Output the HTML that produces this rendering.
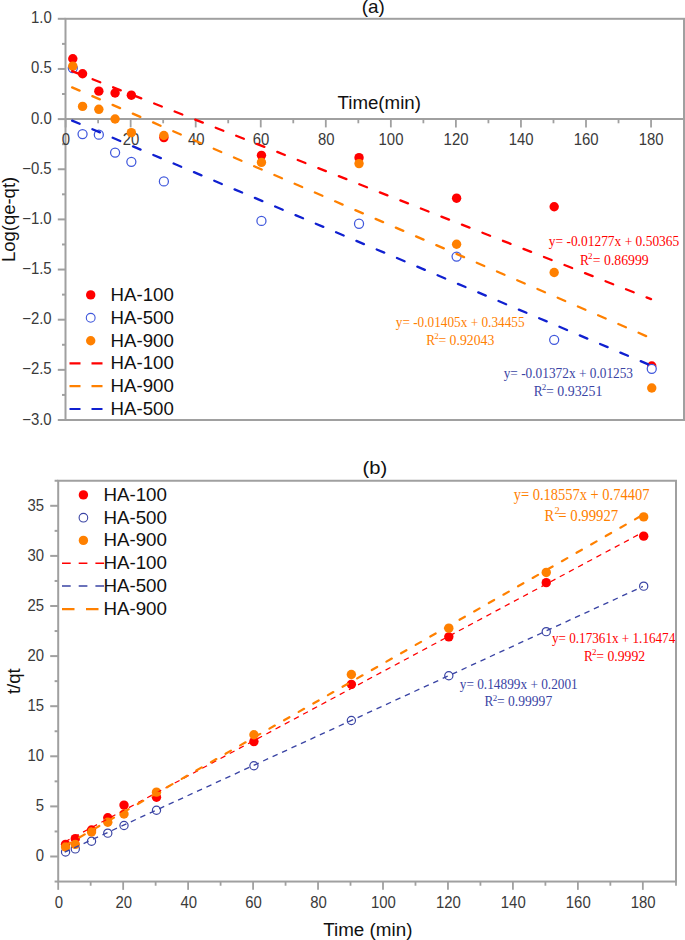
<!DOCTYPE html><html><head><meta charset="utf-8"><style>html,body{margin:0;padding:0;background:#fff;width:685px;height:940px;overflow:hidden}svg{display:block}text{font-family:"Liberation Sans",sans-serif}.s{font-family:"Liberation Serif",serif}</style></head><body>
<svg width="685" height="940" viewBox="0 0 685 940">
<rect width="685" height="940" fill="#fff"/>
<rect x="65.5" y="18.8" width="618.5" height="401.2" fill="none" stroke="#a0a0a0" stroke-width="2"/><line x1="65.5" y1="119.1" x2="684" y2="119.1" stroke="#a0a0a0" stroke-width="2"/><line x1="65.6" y1="119.1" x2="65.6" y2="127.4" stroke="#a0a0a0" stroke-width="1.8"/><line x1="98.12" y1="119.1" x2="98.12" y2="123.3" stroke="#a0a0a0" stroke-width="1.8"/><line x1="130.65" y1="119.1" x2="130.65" y2="127.4" stroke="#a0a0a0" stroke-width="1.8"/><line x1="163.18" y1="119.1" x2="163.18" y2="123.3" stroke="#a0a0a0" stroke-width="1.8"/><line x1="195.7" y1="119.1" x2="195.7" y2="127.4" stroke="#a0a0a0" stroke-width="1.8"/><line x1="228.22" y1="119.1" x2="228.22" y2="123.3" stroke="#a0a0a0" stroke-width="1.8"/><line x1="260.75" y1="119.1" x2="260.75" y2="127.4" stroke="#a0a0a0" stroke-width="1.8"/><line x1="293.27" y1="119.1" x2="293.27" y2="123.3" stroke="#a0a0a0" stroke-width="1.8"/><line x1="325.8" y1="119.1" x2="325.8" y2="127.4" stroke="#a0a0a0" stroke-width="1.8"/><line x1="358.33" y1="119.1" x2="358.33" y2="123.3" stroke="#a0a0a0" stroke-width="1.8"/><line x1="390.85" y1="119.1" x2="390.85" y2="127.4" stroke="#a0a0a0" stroke-width="1.8"/><line x1="423.38" y1="119.1" x2="423.38" y2="123.3" stroke="#a0a0a0" stroke-width="1.8"/><line x1="455.9" y1="119.1" x2="455.9" y2="127.4" stroke="#a0a0a0" stroke-width="1.8"/><line x1="488.42" y1="119.1" x2="488.42" y2="123.3" stroke="#a0a0a0" stroke-width="1.8"/><line x1="520.95" y1="119.1" x2="520.95" y2="127.4" stroke="#a0a0a0" stroke-width="1.8"/><line x1="553.48" y1="119.1" x2="553.48" y2="123.3" stroke="#a0a0a0" stroke-width="1.8"/><line x1="586" y1="119.1" x2="586" y2="127.4" stroke="#a0a0a0" stroke-width="1.8"/><line x1="618.52" y1="119.1" x2="618.52" y2="123.3" stroke="#a0a0a0" stroke-width="1.8"/><line x1="651.05" y1="119.1" x2="651.05" y2="127.4" stroke="#a0a0a0" stroke-width="1.8"/><line x1="57.8" y1="18.8" x2="65.5" y2="18.8" stroke="#a0a0a0" stroke-width="2"/><line x1="62" y1="43.88" x2="65.5" y2="43.88" stroke="#a0a0a0" stroke-width="2"/><line x1="57.8" y1="68.95" x2="65.5" y2="68.95" stroke="#a0a0a0" stroke-width="2"/><line x1="62" y1="94.02" x2="65.5" y2="94.02" stroke="#a0a0a0" stroke-width="2"/><line x1="57.8" y1="119.1" x2="65.5" y2="119.1" stroke="#a0a0a0" stroke-width="2"/><line x1="62" y1="144.17" x2="65.5" y2="144.17" stroke="#a0a0a0" stroke-width="2"/><line x1="57.8" y1="169.25" x2="65.5" y2="169.25" stroke="#a0a0a0" stroke-width="2"/><line x1="62" y1="194.32" x2="65.5" y2="194.32" stroke="#a0a0a0" stroke-width="2"/><line x1="57.8" y1="219.4" x2="65.5" y2="219.4" stroke="#a0a0a0" stroke-width="2"/><line x1="62" y1="244.47" x2="65.5" y2="244.47" stroke="#a0a0a0" stroke-width="2"/><line x1="57.8" y1="269.55" x2="65.5" y2="269.55" stroke="#a0a0a0" stroke-width="2"/><line x1="62" y1="294.62" x2="65.5" y2="294.62" stroke="#a0a0a0" stroke-width="2"/><line x1="57.8" y1="319.7" x2="65.5" y2="319.7" stroke="#a0a0a0" stroke-width="2"/><line x1="62" y1="344.77" x2="65.5" y2="344.77" stroke="#a0a0a0" stroke-width="2"/><line x1="57.8" y1="369.85" x2="65.5" y2="369.85" stroke="#a0a0a0" stroke-width="2"/><line x1="62" y1="394.92" x2="65.5" y2="394.92" stroke="#a0a0a0" stroke-width="2"/><line x1="57.8" y1="420" x2="65.5" y2="420" stroke="#a0a0a0" stroke-width="2"/>
<text x="30.97" y="23.30" font-size="16.3" fill="#3a3a3a" textLength="20.73" lengthAdjust="spacingAndGlyphs">1.0</text>
<text x="30.97" y="73.45" font-size="16.3" fill="#3a3a3a" textLength="20.73" lengthAdjust="spacingAndGlyphs">0.5</text>
<text x="30.97" y="123.60" font-size="16.3" fill="#3a3a3a" textLength="20.73" lengthAdjust="spacingAndGlyphs">0.0</text>
<text x="22.24" y="173.75" font-size="16.3" fill="#3a3a3a" textLength="29.44" lengthAdjust="spacingAndGlyphs">−0.5</text>
<text x="22.24" y="223.90" font-size="16.3" fill="#3a3a3a" textLength="29.44" lengthAdjust="spacingAndGlyphs">−1.0</text>
<text x="22.24" y="274.05" font-size="16.3" fill="#3a3a3a" textLength="29.44" lengthAdjust="spacingAndGlyphs">−1.5</text>
<text x="22.24" y="324.20" font-size="16.3" fill="#3a3a3a" textLength="29.44" lengthAdjust="spacingAndGlyphs">−2.0</text>
<text x="22.24" y="374.35" font-size="16.3" fill="#3a3a3a" textLength="29.44" lengthAdjust="spacingAndGlyphs">−2.5</text>
<text x="22.24" y="424.50" font-size="16.3" fill="#3a3a3a" textLength="29.44" lengthAdjust="spacingAndGlyphs">−3.0</text>
<text x="61.86" y="144.80" font-size="16.3" fill="#3a3a3a" textLength="8.30" lengthAdjust="spacingAndGlyphs">0</text>
<text x="122.70" y="144.80" font-size="16.3" fill="#3a3a3a" textLength="16.59" lengthAdjust="spacingAndGlyphs">20</text>
<text x="187.93" y="144.80" font-size="16.3" fill="#3a3a3a" textLength="16.59" lengthAdjust="spacingAndGlyphs">40</text>
<text x="252.80" y="144.80" font-size="16.3" fill="#3a3a3a" textLength="16.59" lengthAdjust="spacingAndGlyphs">60</text>
<text x="317.89" y="144.80" font-size="16.3" fill="#3a3a3a" textLength="16.59" lengthAdjust="spacingAndGlyphs">80</text>
<text x="378.57" y="144.80" font-size="16.3" fill="#3a3a3a" textLength="24.89" lengthAdjust="spacingAndGlyphs">100</text>
<text x="443.62" y="144.80" font-size="16.3" fill="#3a3a3a" textLength="24.89" lengthAdjust="spacingAndGlyphs">120</text>
<text x="508.67" y="144.80" font-size="16.3" fill="#3a3a3a" textLength="24.89" lengthAdjust="spacingAndGlyphs">140</text>
<text x="573.72" y="144.80" font-size="16.3" fill="#3a3a3a" textLength="24.89" lengthAdjust="spacingAndGlyphs">160</text>
<text x="638.77" y="144.80" font-size="16.3" fill="#3a3a3a" textLength="24.89" lengthAdjust="spacingAndGlyphs">180</text>
<text x="337.53" y="109.00" font-size="18.3" fill="#111" textLength="83.44" lengthAdjust="spacingAndGlyphs">Time(min)</text>
<text x="361.77" y="13.20" font-size="18.2" fill="#111" textLength="23.11" lengthAdjust="spacingAndGlyphs">(a)</text>
<text transform="rotate(-90)" x="-262.08" y="14.90" font-size="18.5" fill="#111" textLength="85.26" lengthAdjust="spacingAndGlyphs">Log(qe-qt)</text>
<circle cx="72.8" cy="58.77" r="4.7" fill="#ff0000"/><circle cx="82.56" cy="73.71" r="4.7" fill="#ff0000"/><circle cx="98.83" cy="91.17" r="4.7" fill="#ff0000"/><circle cx="115.09" cy="92.97" r="4.7" fill="#ff0000"/><circle cx="131.35" cy="95.18" r="4.7" fill="#ff0000"/><circle cx="163.88" cy="137.6" r="4.7" fill="#ff0000"/><circle cx="261.45" cy="155.36" r="4.7" fill="#ff0000"/><circle cx="359.03" cy="157.66" r="4.7" fill="#ff0000"/><circle cx="456.6" cy="198.19" r="4.7" fill="#ff0000"/><circle cx="554.18" cy="206.71" r="4.7" fill="#ff0000"/><circle cx="651.75" cy="365.99" r="4.7" fill="#ff0000"/>
<circle cx="72.8" cy="68.1" r="4.525" fill="#fff" stroke="#4058dc" stroke-width="1.25"/><circle cx="82.56" cy="134.09" r="4.525" fill="#fff" stroke="#4058dc" stroke-width="1.25"/><circle cx="98.83" cy="134.7" r="4.525" fill="#fff" stroke="#4058dc" stroke-width="1.25"/><circle cx="115.09" cy="152.55" r="4.525" fill="#fff" stroke="#4058dc" stroke-width="1.25"/><circle cx="131.35" cy="161.78" r="4.525" fill="#fff" stroke="#4058dc" stroke-width="1.25"/><circle cx="163.88" cy="181.44" r="4.525" fill="#fff" stroke="#4058dc" stroke-width="1.25"/><circle cx="261.45" cy="220.95" r="4.525" fill="#fff" stroke="#4058dc" stroke-width="1.25"/><circle cx="359.03" cy="223.76" r="4.525" fill="#fff" stroke="#4058dc" stroke-width="1.25"/><circle cx="456.6" cy="256.56" r="4.525" fill="#fff" stroke="#4058dc" stroke-width="1.25"/><circle cx="554.18" cy="339.81" r="4.525" fill="#fff" stroke="#4058dc" stroke-width="1.25"/><circle cx="651.75" cy="368.8" r="4.525" fill="#fff" stroke="#4058dc" stroke-width="1.25"/>
<circle cx="72.8" cy="66.19" r="4.7" fill="#ff8000"/><circle cx="82.56" cy="106.41" r="4.7" fill="#ff8000"/><circle cx="98.83" cy="109.32" r="4.7" fill="#ff8000"/><circle cx="115.09" cy="118.95" r="4.7" fill="#ff8000"/><circle cx="131.35" cy="132.69" r="4.7" fill="#ff8000"/><circle cx="163.88" cy="135.5" r="4.7" fill="#ff8000"/><circle cx="261.45" cy="162.38" r="4.7" fill="#ff8000"/><circle cx="359.03" cy="163.58" r="4.7" fill="#ff8000"/><circle cx="456.6" cy="244.22" r="4.7" fill="#ff8000"/><circle cx="554.18" cy="272.51" r="4.7" fill="#ff8000"/><circle cx="651.75" cy="388.05" r="4.7" fill="#ff8000"/>
<line x1="72.1" y1="71.15" x2="651.05" y2="299.13" stroke="#ff0000" stroke-width="2.3" stroke-dasharray="8.2 13.85" stroke-dashoffset="0" stroke-linecap="round"/>
<line x1="72.1" y1="87.36" x2="651.05" y2="338.2" stroke="#ff8000" stroke-width="2.3" stroke-dasharray="8.2 13.85" stroke-dashoffset="0" stroke-linecap="round"/>
<line x1="72.1" y1="120.6" x2="651.05" y2="365.54" stroke="#1020d0" stroke-width="2.3" stroke-dasharray="8.2 13.85" stroke-dashoffset="0" stroke-linecap="round"/>
<text class="s" x="548.77" y="246.20" font-size="14.3" fill="#ff0000" textLength="130.49" lengthAdjust="spacingAndGlyphs">y= -0.01277x + 0.50365</text><text class="s" x="580.10" y="264.60" font-size="14.3" fill="#ff0000" textLength="8.96" lengthAdjust="spacingAndGlyphs">R</text><text class="s" x="588.03" y="259.10" font-size="9.0" fill="#ff0000" textLength="4.50" lengthAdjust="spacingAndGlyphs">2</text><text class="s" x="592.84" y="264.60" font-size="14.3" fill="#ff0000" textLength="55.89" lengthAdjust="spacingAndGlyphs">= 0.86999</text>
<text class="s" x="395.77" y="326.90" font-size="14.3" fill="#ff8000" textLength="128.78" lengthAdjust="spacingAndGlyphs">y= -0.01405x + 0.34455</text><text class="s" x="426.20" y="344.60" font-size="14.3" fill="#ff8000" textLength="8.85" lengthAdjust="spacingAndGlyphs">R</text><text class="s" x="434.22" y="339.10" font-size="9.0" fill="#ff8000" textLength="4.50" lengthAdjust="spacingAndGlyphs">2</text><text class="s" x="438.43" y="344.60" font-size="14.3" fill="#ff8000" textLength="55.90" lengthAdjust="spacingAndGlyphs">= 0.92043</text>
<text class="s" x="503.67" y="377.60" font-size="14.3" fill="#3a44a4" textLength="129.38" lengthAdjust="spacingAndGlyphs">y= -0.01372x + 0.01253</text><text class="s" x="533.70" y="395.60" font-size="14.3" fill="#3a44a4" textLength="8.89" lengthAdjust="spacingAndGlyphs">R</text><text class="s" x="541.86" y="390.10" font-size="9.0" fill="#3a44a4" textLength="4.50" lengthAdjust="spacingAndGlyphs">2</text><text class="s" x="546.07" y="395.60" font-size="14.3" fill="#3a44a4" textLength="56.35" lengthAdjust="spacingAndGlyphs">= 0.93251</text>
<circle cx="90.7" cy="294.9" r="4.7" fill="#ff0000"/>
<circle cx="90.7" cy="317.8" r="4.4" fill="none" stroke="#4058dc" stroke-width="1.1"/>
<circle cx="90.7" cy="340.7" r="4.7" fill="#ff8000"/>
<line x1="69.5" y1="363.4" x2="102.5" y2="363.4" stroke="#ff0000" stroke-width="2.2" stroke-dasharray="11 11"/>
<line x1="69.5" y1="386.2" x2="102.5" y2="386.2" stroke="#ff8000" stroke-width="2.2" stroke-dasharray="11 11"/>
<line x1="69.5" y1="409.0" x2="102.5" y2="409.0" stroke="#1020d0" stroke-width="2.2" stroke-dasharray="11 11"/>
<text x="110.61" y="300.90" font-size="18" fill="#111" textLength="63.15" lengthAdjust="spacingAndGlyphs">HA-100</text>
<text x="110.61" y="323.80" font-size="18" fill="#111" textLength="63.15" lengthAdjust="spacingAndGlyphs">HA-500</text>
<text x="110.61" y="346.70" font-size="18" fill="#111" textLength="63.15" lengthAdjust="spacingAndGlyphs">HA-900</text>
<text x="110.61" y="369.40" font-size="18" fill="#111" textLength="63.15" lengthAdjust="spacingAndGlyphs">HA-100</text>
<text x="110.61" y="392.20" font-size="18" fill="#111" textLength="63.15" lengthAdjust="spacingAndGlyphs">HA-900</text>
<text x="110.61" y="415.00" font-size="18" fill="#111" textLength="63.15" lengthAdjust="spacingAndGlyphs">HA-500</text>
<rect x="58.2" y="480.75" width="617.8" height="400.8" fill="none" stroke="#a0a0a0" stroke-width="2"/><line x1="58.2" y1="881.55" x2="58.2" y2="889.85" stroke="#a0a0a0" stroke-width="1.8"/><line x1="90.68" y1="881.55" x2="90.68" y2="885.75" stroke="#a0a0a0" stroke-width="1.8"/><line x1="123.16" y1="881.55" x2="123.16" y2="889.85" stroke="#a0a0a0" stroke-width="1.8"/><line x1="155.64" y1="881.55" x2="155.64" y2="885.75" stroke="#a0a0a0" stroke-width="1.8"/><line x1="188.12" y1="881.55" x2="188.12" y2="889.85" stroke="#a0a0a0" stroke-width="1.8"/><line x1="220.6" y1="881.55" x2="220.6" y2="885.75" stroke="#a0a0a0" stroke-width="1.8"/><line x1="253.08" y1="881.55" x2="253.08" y2="889.85" stroke="#a0a0a0" stroke-width="1.8"/><line x1="285.56" y1="881.55" x2="285.56" y2="885.75" stroke="#a0a0a0" stroke-width="1.8"/><line x1="318.04" y1="881.55" x2="318.04" y2="889.85" stroke="#a0a0a0" stroke-width="1.8"/><line x1="350.52" y1="881.55" x2="350.52" y2="885.75" stroke="#a0a0a0" stroke-width="1.8"/><line x1="383" y1="881.55" x2="383" y2="889.85" stroke="#a0a0a0" stroke-width="1.8"/><line x1="415.48" y1="881.55" x2="415.48" y2="885.75" stroke="#a0a0a0" stroke-width="1.8"/><line x1="447.96" y1="881.55" x2="447.96" y2="889.85" stroke="#a0a0a0" stroke-width="1.8"/><line x1="480.44" y1="881.55" x2="480.44" y2="885.75" stroke="#a0a0a0" stroke-width="1.8"/><line x1="512.92" y1="881.55" x2="512.92" y2="889.85" stroke="#a0a0a0" stroke-width="1.8"/><line x1="545.4" y1="881.55" x2="545.4" y2="885.75" stroke="#a0a0a0" stroke-width="1.8"/><line x1="577.88" y1="881.55" x2="577.88" y2="889.85" stroke="#a0a0a0" stroke-width="1.8"/><line x1="610.36" y1="881.55" x2="610.36" y2="885.75" stroke="#a0a0a0" stroke-width="1.8"/><line x1="642.84" y1="881.55" x2="642.84" y2="889.85" stroke="#a0a0a0" stroke-width="1.8"/><line x1="676" y1="881.55" x2="676" y2="885.75" stroke="#a0a0a0" stroke-width="1.8"/><line x1="54.6" y1="881.55" x2="58.2" y2="881.55" stroke="#a0a0a0" stroke-width="2"/><line x1="50.2" y1="856.5" x2="58.2" y2="856.5" stroke="#a0a0a0" stroke-width="2"/><line x1="54.6" y1="831.45" x2="58.2" y2="831.45" stroke="#a0a0a0" stroke-width="2"/><line x1="50.2" y1="806.4" x2="58.2" y2="806.4" stroke="#a0a0a0" stroke-width="2"/><line x1="54.6" y1="781.35" x2="58.2" y2="781.35" stroke="#a0a0a0" stroke-width="2"/><line x1="50.2" y1="756.3" x2="58.2" y2="756.3" stroke="#a0a0a0" stroke-width="2"/><line x1="54.6" y1="731.25" x2="58.2" y2="731.25" stroke="#a0a0a0" stroke-width="2"/><line x1="50.2" y1="706.2" x2="58.2" y2="706.2" stroke="#a0a0a0" stroke-width="2"/><line x1="54.6" y1="681.15" x2="58.2" y2="681.15" stroke="#a0a0a0" stroke-width="2"/><line x1="50.2" y1="656.1" x2="58.2" y2="656.1" stroke="#a0a0a0" stroke-width="2"/><line x1="54.6" y1="631.05" x2="58.2" y2="631.05" stroke="#a0a0a0" stroke-width="2"/><line x1="50.2" y1="606" x2="58.2" y2="606" stroke="#a0a0a0" stroke-width="2"/><line x1="54.6" y1="580.95" x2="58.2" y2="580.95" stroke="#a0a0a0" stroke-width="2"/><line x1="50.2" y1="555.9" x2="58.2" y2="555.9" stroke="#a0a0a0" stroke-width="2"/><line x1="54.6" y1="530.85" x2="58.2" y2="530.85" stroke="#a0a0a0" stroke-width="2"/><line x1="50.2" y1="505.8" x2="58.2" y2="505.8" stroke="#a0a0a0" stroke-width="2"/><line x1="54.6" y1="480.75" x2="58.2" y2="480.75" stroke="#a0a0a0" stroke-width="2"/>
<text x="35.72" y="861.40" font-size="16.3" fill="#3a3a3a" textLength="8.30" lengthAdjust="spacingAndGlyphs">0</text>
<text x="35.72" y="811.30" font-size="16.3" fill="#3a3a3a" textLength="8.30" lengthAdjust="spacingAndGlyphs">5</text>
<text x="27.44" y="761.20" font-size="16.3" fill="#3a3a3a" textLength="16.59" lengthAdjust="spacingAndGlyphs">10</text>
<text x="27.44" y="711.10" font-size="16.3" fill="#3a3a3a" textLength="16.59" lengthAdjust="spacingAndGlyphs">15</text>
<text x="27.44" y="661.00" font-size="16.3" fill="#3a3a3a" textLength="16.59" lengthAdjust="spacingAndGlyphs">20</text>
<text x="27.44" y="610.90" font-size="16.3" fill="#3a3a3a" textLength="16.59" lengthAdjust="spacingAndGlyphs">25</text>
<text x="27.44" y="560.80" font-size="16.3" fill="#3a3a3a" textLength="16.59" lengthAdjust="spacingAndGlyphs">30</text>
<text x="27.44" y="510.70" font-size="16.3" fill="#3a3a3a" textLength="16.59" lengthAdjust="spacingAndGlyphs">35</text>
<text x="54.66" y="907.55" font-size="16.3" fill="#3a3a3a" textLength="8.30" lengthAdjust="spacingAndGlyphs">0</text>
<text x="115.41" y="907.55" font-size="16.3" fill="#3a3a3a" textLength="16.59" lengthAdjust="spacingAndGlyphs">20</text>
<text x="180.55" y="907.55" font-size="16.3" fill="#3a3a3a" textLength="16.59" lengthAdjust="spacingAndGlyphs">40</text>
<text x="245.33" y="907.55" font-size="16.3" fill="#3a3a3a" textLength="16.59" lengthAdjust="spacingAndGlyphs">60</text>
<text x="310.33" y="907.55" font-size="16.3" fill="#3a3a3a" textLength="16.59" lengthAdjust="spacingAndGlyphs">80</text>
<text x="370.92" y="907.55" font-size="16.3" fill="#3a3a3a" textLength="24.89" lengthAdjust="spacingAndGlyphs">100</text>
<text x="435.88" y="907.55" font-size="16.3" fill="#3a3a3a" textLength="24.89" lengthAdjust="spacingAndGlyphs">120</text>
<text x="500.84" y="907.55" font-size="16.3" fill="#3a3a3a" textLength="24.89" lengthAdjust="spacingAndGlyphs">140</text>
<text x="565.80" y="907.55" font-size="16.3" fill="#3a3a3a" textLength="24.89" lengthAdjust="spacingAndGlyphs">160</text>
<text x="630.76" y="907.55" font-size="16.3" fill="#3a3a3a" textLength="24.89" lengthAdjust="spacingAndGlyphs">180</text>
<text x="323.23" y="935.70" font-size="18.3" fill="#111" textLength="89.20" lengthAdjust="spacingAndGlyphs">Time (min)</text>
<text x="362.59" y="474.10" font-size="18.2" fill="#111" textLength="24.67" lengthAdjust="spacingAndGlyphs">(b)</text>
<text transform="rotate(-90)" x="-694.08" y="19.70" font-size="18" fill="#111" textLength="25.76" lengthAdjust="spacingAndGlyphs">t/qt</text>
<circle cx="65.55" cy="844.37" r="4.7" fill="#ff0000"/><circle cx="75.29" cy="838.66" r="4.7" fill="#ff0000"/><circle cx="91.53" cy="830.05" r="4.7" fill="#ff0000"/><circle cx="107.77" cy="817.72" r="4.7" fill="#ff0000"/><circle cx="124.01" cy="805.1" r="4.7" fill="#ff0000"/><circle cx="156.49" cy="797.28" r="4.7" fill="#ff0000"/><circle cx="253.93" cy="741.57" r="4.7" fill="#ff0000"/><circle cx="351.37" cy="684.36" r="4.7" fill="#ff0000"/><circle cx="448.81" cy="636.86" r="4.7" fill="#ff0000"/><circle cx="546.25" cy="582.65" r="4.7" fill="#ff0000"/><circle cx="643.69" cy="536.16" r="4.7" fill="#ff0000"/>
<circle cx="65.55" cy="851.99" r="4.1000000000000005" fill="#fff" stroke="#3a44a4" stroke-width="1.2"/><circle cx="75.29" cy="848.88" r="4.1000000000000005" fill="#fff" stroke="#3a44a4" stroke-width="1.2"/><circle cx="91.53" cy="841.27" r="4.1000000000000005" fill="#fff" stroke="#3a44a4" stroke-width="1.2"/><circle cx="107.77" cy="833.15" r="4.1000000000000005" fill="#fff" stroke="#3a44a4" stroke-width="1.2"/><circle cx="124.01" cy="825.54" r="4.1000000000000005" fill="#fff" stroke="#3a44a4" stroke-width="1.2"/><circle cx="156.49" cy="810.21" r="4.1000000000000005" fill="#fff" stroke="#3a44a4" stroke-width="1.2"/><circle cx="253.93" cy="765.72" r="4.1000000000000005" fill="#fff" stroke="#3a44a4" stroke-width="1.2"/><circle cx="351.37" cy="720.53" r="4.1000000000000005" fill="#fff" stroke="#3a44a4" stroke-width="1.2"/><circle cx="448.81" cy="675.74" r="4.1000000000000005" fill="#fff" stroke="#3a44a4" stroke-width="1.2"/><circle cx="546.25" cy="631.65" r="4.1000000000000005" fill="#fff" stroke="#3a44a4" stroke-width="1.2"/><circle cx="643.69" cy="586.16" r="4.1000000000000005" fill="#fff" stroke="#3a44a4" stroke-width="1.2"/>
<circle cx="65.55" cy="846.98" r="4.7" fill="#ff8000"/><circle cx="75.29" cy="844.37" r="4.7" fill="#ff8000"/><circle cx="91.53" cy="832.05" r="4.7" fill="#ff8000"/><circle cx="107.77" cy="822.23" r="4.7" fill="#ff8000"/><circle cx="124.01" cy="814.01" r="4.7" fill="#ff8000"/><circle cx="156.49" cy="792.17" r="4.7" fill="#ff8000"/><circle cx="253.93" cy="734.76" r="4.7" fill="#ff8000"/><circle cx="351.37" cy="674.54" r="4.7" fill="#ff8000"/><circle cx="448.81" cy="628.14" r="4.7" fill="#ff8000"/><circle cx="546.25" cy="572.43" r="4.7" fill="#ff8000"/><circle cx="643.69" cy="516.92" r="4.7" fill="#ff8000"/>
<line x1="64.7" y1="841.95" x2="642.84" y2="532.31" stroke="#ff0000" stroke-width="1.25" stroke-dasharray="5.5 4.9" stroke-dashoffset="0" stroke-linecap="butt"/>
<line x1="64.7" y1="852.21" x2="642.84" y2="586.48" stroke="#3a44a4" stroke-width="1.35" stroke-dasharray="5.5 4.9" stroke-dashoffset="0" stroke-linecap="butt"/>
<line x1="64.7" y1="845.83" x2="642.84" y2="514.85" stroke="#ff8000" stroke-width="2.2" stroke-dasharray="6.2 10.65" stroke-dashoffset="0" stroke-linecap="round"/>
<text class="s" x="513.66" y="499.90" font-size="15.8" fill="#ff8000" textLength="135.75" lengthAdjust="spacingAndGlyphs">y= 0.18557x + 0.74407</text><text class="s" x="544.57" y="520.70" font-size="15.8" fill="#ff8000" textLength="9.66" lengthAdjust="spacingAndGlyphs">R</text><text class="s" x="554.62" y="514.10" font-size="10.5" fill="#ff8000" textLength="5.25" lengthAdjust="spacingAndGlyphs">2</text><text class="s" x="558.25" y="520.70" font-size="15.8" fill="#ff8000" textLength="59.97" lengthAdjust="spacingAndGlyphs">= 0.99927</text>
<text class="s" x="551.97" y="643.00" font-size="14.3" fill="#ff0000" textLength="123.30" lengthAdjust="spacingAndGlyphs">y= 0.17361x + 1.16474</text><text class="s" x="584.01" y="660.80" font-size="14.3" fill="#ff0000" textLength="8.77" lengthAdjust="spacingAndGlyphs">R</text><text class="s" x="592.04" y="655.30" font-size="9.0" fill="#ff0000" textLength="4.50" lengthAdjust="spacingAndGlyphs">2</text><text class="s" x="596.26" y="660.80" font-size="14.3" fill="#ff0000" textLength="48.98" lengthAdjust="spacingAndGlyphs">= 0.9992</text>
<text class="s" x="459.77" y="688.60" font-size="14.3" fill="#3a44a4" textLength="118.00" lengthAdjust="spacingAndGlyphs">y= 0.14899x + 0.2001</text><text class="s" x="484.60" y="706.10" font-size="14.3" fill="#3a44a4" textLength="8.87" lengthAdjust="spacingAndGlyphs">R</text><text class="s" x="492.74" y="700.60" font-size="9.0" fill="#3a44a4" textLength="4.50" lengthAdjust="spacingAndGlyphs">2</text><text class="s" x="496.96" y="706.10" font-size="14.3" fill="#3a44a4" textLength="55.23" lengthAdjust="spacingAndGlyphs">= 0.99997</text>
<circle cx="83.4" cy="494.9" r="4.7" fill="#ff0000"/>
<circle cx="83.4" cy="517.7" r="4.3" fill="none" stroke="#3a44a4" stroke-width="1.1"/>
<circle cx="83.4" cy="540.4" r="4.7" fill="#ff8000"/>
<line x1="62" y1="563.2" x2="104.5" y2="563.2" stroke="#ff0000" stroke-width="1.6" stroke-dasharray="8.7 8"/>
<line x1="62" y1="586.0" x2="104.5" y2="586.0" stroke="#3a44a4" stroke-width="1.6" stroke-dasharray="8.7 8"/>
<line x1="62" y1="609.1" x2="99" y2="609.1" stroke="#ff8000" stroke-width="2.3" stroke-dasharray="12.5 11.5"/>
<text x="103.40" y="500.70" font-size="18" fill="#111" textLength="63.56" lengthAdjust="spacingAndGlyphs">HA-100</text>
<text x="103.40" y="523.50" font-size="18" fill="#111" textLength="63.56" lengthAdjust="spacingAndGlyphs">HA-500</text>
<text x="103.40" y="546.20" font-size="18" fill="#111" textLength="63.56" lengthAdjust="spacingAndGlyphs">HA-900</text>
<text x="103.40" y="569.00" font-size="18" fill="#111" textLength="63.56" lengthAdjust="spacingAndGlyphs">HA-100</text>
<text x="103.40" y="591.80" font-size="18" fill="#111" textLength="63.56" lengthAdjust="spacingAndGlyphs">HA-500</text>
<text x="103.40" y="614.90" font-size="18" fill="#111" textLength="63.56" lengthAdjust="spacingAndGlyphs">HA-900</text>
</svg></body></html>
